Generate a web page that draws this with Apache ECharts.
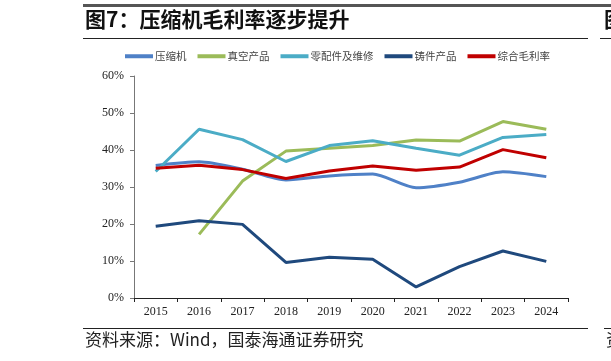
<!DOCTYPE html>
<html><head><meta charset="utf-8">
<script src="https://cdn.jsdelivr.net/npm/echarts@6/dist/echarts.min.js"></script>
<style>html,body{margin:0;padding:0;background:#fff}#c{width:611px;height:361px}</style>
</head><body><div id="c"></div>
<script>
const years = ['2015','2016','2017','2018','2019','2020','2021','2022','2023','2024'];
const compressor = [35.8, 36.8, 34.8, 31.9, 33.0, 33.5, 29.8, 31.3, 34.1, 32.8];
const vacuum = [null, 17.2, 31.6, 39.7, 40.5, 41.2, 42.7, 42.4, 47.7, 45.6];
const parts = [34.2, 45.6, 42.8, 36.9, 41.2, 42.5, 40.5, 38.6, 43.4, 44.2];
const castings = [19.4, 20.9, 19.9, 9.6, 11.0, 10.5, 3.0, 8.5, 12.7, 9.9];
const overall = [35.1, 35.9, 34.7, 32.3, 34.3, 35.7, 34.5, 35.4, 40.1, 37.9];
const yTicks = [0, 10, 20, 30, 40, 50, 60];
const names = ['压缩机','真空产品','零配件及维修','铸件产品','综合毛利率'];
const colors = ['#4F81C7','#9BBB59','#4BACC6','#1F497D','#C00000'];

const chart = echarts.init(document.getElementById('c'));
const serif = '"Liberation Serif", "Times New Roman", serif';
const cjk = '"Noto Sans CJK SC", sans-serif';
const dataSets = [compressor, vacuum, parts, castings, overall];
chart.setOption({
  animation: false,
  backgroundColor: '#fff',
  legend: {
    top: 46, left: 120, itemWidth: 28, itemHeight: 4, itemGap: 11,
    icon: 'rect',
    textStyle: {fontFamily: cjk, fontSize: 10.5, color: '#444', padding: [0,0,0,-3]},
    data: names
  },
  grid: {left: 134, right: 43, top: 76, bottom: 63},
  xAxis: {
    type: 'category', data: years, boundaryGap: true,
    axisLine: {lineStyle: {color: '#222', width: 1}},
    axisTick: {show: true, length: 4, lineStyle: {color: '#222'}},
    axisLabel: {fontFamily: serif, fontSize: 12, color: '#222', margin: 8}
  },
  yAxis: {
    type: 'value', min: yTicks[0], max: yTicks[yTicks.length - 1], interval: 10,
    axisLine: {show: true, lineStyle: {color: '#777', width: 1}},
    axisTick: {show: true, length: 4, lineStyle: {color: '#777'}},
    splitLine: {show: false},
    axisLabel: {fontFamily: serif, fontSize: 12, color: '#222', margin: 10, formatter: v => v + '%'}
  },
  graphic: [
    {type: 'rect', shape: {x: 83, y: 4, width: 528, height: 3}, style: {fill: '#555'}},
    {type: 'text', left: 85, top: 9, style: {text: '图7：压缩机毛利率逐步提升', font: 'bold 21px "Noto Sans CJK SC", sans-serif', fill: '#111'}},
    {type: 'rect', shape: {x: 83, y: 38, width: 505, height: 1}, style: {fill: '#222'}},
    {type: 'rect', shape: {x: 600, y: 38, width: 11, height: 1}, style: {fill: '#222'}},
    {type: 'text', left: 604, top: 9, style: {text: '图', font: 'bold 21px "Noto Sans CJK SC", sans-serif', fill: '#111'}},
    {type: 'rect', shape: {x: 83, y: 328, width: 505, height: 1}, style: {fill: '#222'}},
    {type: 'text', left: 85, top: 331, style: {text: '资料来源：Wind，国泰海通证券研究', font: '17px "Noto Sans CJK SC", sans-serif', fill: '#222'}},
    {type: 'rect', shape: {x: 604, y: 328, width: 7, height: 1}, style: {fill: '#222'}},
    {type: 'text', left: 606, top: 331, style: {text: '资', font: '17px "Noto Sans CJK SC", sans-serif', fill: '#222'}}
  ],
  series: names.map((n, i) => ({
    name: n, type: 'line', data: dataSets[i], symbol: 'none',
    smooth: i === 0 ? 0.25 : false,
    lineStyle: {width: 3, color: colors[i]},
    itemStyle: {color: colors[i]},
    z: i === 4 ? 5 : 2
  }))
});
</script></body></html>
